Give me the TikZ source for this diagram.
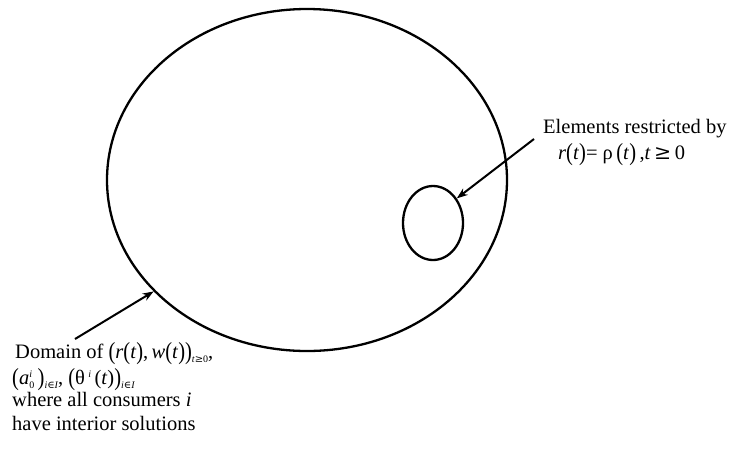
\documentclass[tikz,border=0pt]{standalone}
\usepackage{fontspec}
\setmainfont{Liberation Serif}
\newfontfamily\symf{DejaVu Serif}
\usepackage{graphicx}
\usetikzlibrary{arrows.meta,shapes.geometric}
\newcommand\bigp[1]{\raisebox{-0.08em}{\scalebox{1}[1.2]{#1}}}
\newcommand\lowsub[1]{\raisebox{-0.5ex}{\fontsize{10}{10}\selectfont\itshape #1}}
\newcommand\hisup[1]{\raisebox{0.7ex}{\fontsize{10}{10}\selectfont\itshape #1}}
\begin{document}
\begin{tikzpicture}[x=1pt,y=-1pt,
  txt/.style={font=\fontsize{20.5}{20.5}\selectfont, inner sep=0pt, anchor=base west},
  ring/.style={draw, ellipse, line width=2.3pt, inner sep=0pt},
  arr/.style={line width=2pt, -{Stealth[length=11pt,width=8pt]}}]
\useasboundingbox (0,0) rectangle (730,448);
\node[ring, minimum width=400pt, minimum height=342pt] (dom) at (307,180) {};
\node[ring, minimum width=60pt, minimum height=74pt] (small) at (433,223) {};
\coordinate (t1) at (534,139);
\coordinate (t2) at (75,339);
\draw[arr] (t1) -- (small.46);
\draw[arr] (t2) -- (dom.216);
\node[txt] (e1) at (543,133) {Elements restricted by};
\node[txt] (e2) at (558,159) {\textit{r}\bigp{(}\textit{t}\bigp{)}= ρ\,\bigp{(}\textit{t}\bigp{)}\,,\textit{t}\,{\symf ≥}\,0};
\node[txt] (d1) at (15,358) {Domain of \bigp{(}\textit{r}\bigp{(}\textit{t}\bigp{)},\,\textit{w}\bigp{(}\textit{t}\bigp{)}\bigp{)}\lowsub{t{\symf ≥}\upshape 0},};
\node[txt] (d2) at (12,384) {\bigp{(}\textit{a}\rlap{\hisup{i}}\lowsub{\upshape 0}\,\bigp{)}\lowsub{i{\symf ∈}I}, \bigp{(}θ\,\hisup{i}\,(\textit{t})\bigp{)}\lowsub{i{\symf ∈}I}};
\node[txt] (d3) at (12,406) {where all consumers \textit{i}};
\node[txt] (d4) at (12,430) {have interior solutions};
\end{tikzpicture}
\end{document}
